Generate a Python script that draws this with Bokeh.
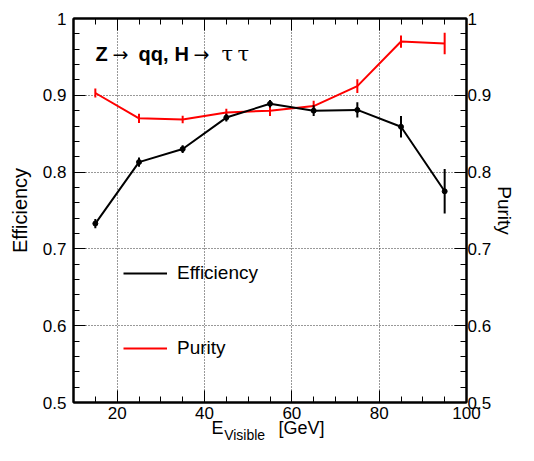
from bokeh.plotting import figure
from bokeh.models import (Range1d, LinearAxis, FixedTicker, Label, Legend, LegendItem)
from bokeh.embed import file_html
from bokeh.resources import INLINE
import numpy as np

# ---- data ----
e_visible = [15, 25, 35, 45, 55, 65, 75, 85, 95]
efficiency = [0.733, 0.813, 0.830, 0.871, 0.889, 0.880, 0.881, 0.859, 0.775]
efficiency_err = [0.006, 0.006, 0.005, 0.005, 0.005, 0.007, 0.010, 0.014, 0.029]
purity = [0.903, 0.870, 0.8685, 0.8775, 0.880, 0.886, 0.912, 0.970, 0.9675]
purity_err = [0.006, 0.006, 0.005, 0.005, 0.007, 0.007, 0.009, 0.008, 0.014]

x_ticks = [20, 40, 60, 80, 100]
x_tick_labels = ["20", "40", "60", "80", "100"]
y_ticks = [0.5, 0.6, 0.7, 0.8, 0.9, 1.0]
y_tick_labels = ["0.5", "0.6", "0.7", "0.8", "0.9", "1"]

# x-axis title pieces: text and the x value under which each is centred
x_title_main = ["E", "[GeV]"]
x_title_main_at = [43.0, 62.2]
x_title_sub = ["Visible"]
x_title_sub_at = [49.2]

SANS = "Liberation Sans"

p = figure(width=518, height=445, output_backend="svg", toolbar_location=None,
           x_range=Range1d(10, 100), y_range=Range1d(0.5, 1.0),
           min_border_left=73, min_border_right=45, min_border_top=18,
           min_border_bottom=42, background_fill_color="white",
           border_fill_color="white")
p.extra_y_ranges = {"pur": Range1d(0.5, 1.0)}

x_minor = list(np.arange(10, 100.1, 5))
y_minor = list(np.round(np.arange(0.5, 1.001, 0.02), 3))

def style_axis(ax, ticks, minor, labels=None):
    ax.ticker = FixedTicker(ticks=ticks, minor_ticks=minor)
    ax.axis_line_width = 2
    ax.axis_line_color = "black"
    ax.major_tick_in = 12
    ax.major_tick_out = 0
    ax.minor_tick_in = 6
    ax.minor_tick_out = 0
    ax.major_tick_line_color = "black"
    ax.minor_tick_line_color = "black"
    ax.major_tick_line_width = 1
    ax.minor_tick_line_width = 1
    ax.major_label_text_font = SANS
    ax.major_label_text_font_size = "17px"
    ax.major_label_text_color = "black"
    if labels is None:
        ax.major_label_text_font_size = "1px"
        ax.major_label_text_color = None
    else:
        ax.major_label_overrides = {t: l for t, l in zip(ticks, labels)}

def text_axis(ticks, labels, size, standoff):
    ax = LinearAxis(ticker=FixedTicker(ticks=ticks, minor_ticks=[]))
    ax.axis_line_color = None
    ax.major_tick_line_color = None
    ax.minor_tick_line_color = None
    ax.major_tick_in = 0
    ax.major_tick_out = 0
    ax.minor_tick_in = 0
    ax.minor_tick_out = 0
    ax.major_label_standoff = standoff
    ax.major_label_text_font = SANS
    ax.major_label_text_font_size = size
    ax.major_label_text_color = "black"
    ax.major_label_overrides = {t: l for t, l in zip(ticks, labels)}
    return ax

# bottom
xa = p.xaxis[0]
style_axis(xa, x_ticks, x_minor, x_tick_labels)
xa.major_label_standoff = 4
# x-axis title built from two text rows (main text and subscript)
p.add_layout(text_axis(x_title_main_at, x_title_main, "18px", -4), "below")
p.add_layout(text_axis(x_title_sub_at, x_title_sub, "14px", -14), "below")

# left
ya = p.yaxis[0]
style_axis(ya, y_ticks, y_minor, y_tick_labels)
ya.major_label_standoff = 7
ya.axis_label = "Efficiency"
ya.axis_label_text_font = SANS
ya.axis_label_text_font_style = "normal"
ya.axis_label_text_font_size = "20px"
ya.axis_label_standoff = 9
ya.axis_label_text_color = "black"

# top (mirrored ticks)
top = LinearAxis()
style_axis(top, x_ticks, x_minor, None)
top.major_label_standoff = 0
p.add_layout(top, "above")
# right (purity)
right = LinearAxis(y_range_name="pur")
style_axis(right, y_ticks, y_minor, y_tick_labels)
right.major_label_standoff = 1
right.axis_label = "Purity"
right.axis_label_text_font = SANS
right.axis_label_text_font_style = "normal"
right.axis_label_text_font_size = "19px"
right.axis_label_standoff = 0
right.axis_label_text_color = "black"
p.add_layout(right, "right")

p.outline_line_color = "black"
p.outline_line_width = 2
p.outline_line_alpha = 1

# grids
p.xgrid.ticker = FixedTicker(ticks=x_ticks)
p.ygrid.ticker = FixedTicker(ticks=y_ticks)
for g in (p.xgrid[0], p.ygrid[0]):
    g.grid_line_color = "#333333"
    g.grid_line_dash = "1 2"
    g.grid_line_width = 1

eff_lo = [v - e for v, e in zip(efficiency, efficiency_err)]
eff_hi = [v + e for v, e in zip(efficiency, efficiency_err)]
pur_lo = [v - e for v, e in zip(purity, purity_err)]
pur_hi = [v + e for v, e in zip(purity, purity_err)]

r_pur = p.line(e_visible, purity, line_color="#ff0000", line_width=2)
p.segment(x0=e_visible, y0=pur_lo, x1=e_visible, y1=pur_hi, line_color="#ff0000", line_width=2)

r_eff = p.line(e_visible, efficiency, line_color="black", line_width=2)
p.segment(x0=e_visible, y0=eff_lo, x1=e_visible, y1=eff_hi, line_color="black", line_width=2)
p.scatter(e_visible, efficiency, size=5, color="black")

legend = Legend(items=[LegendItem(label="Efficiency", renderers=[r_eff]),
                       LegendItem(label="Purity", renderers=[r_pur])],
                location=(50, 43), padding=0, margin=0, spacing=53,
                glyph_width=44, glyph_height=20, label_height=20,
                label_standoff=10, label_text_font=SANS,
                label_text_font_size="19px", label_text_color="black",
                background_fill_alpha=0, border_line_alpha=0)
p.add_layout(legend, "center")

# title pieces (screen units, relative to the plot frame)
title_parts = [("Z", SANS, "bold", 22, "20px"),
               ("\u2192", "DejaVu Sans", "normal", 39, "19px"),
               ("qq,", SANS, "bold", 65, "20px"),
               ("H", SANS, "bold", 101, "20px"),
               ("\u2192", "DejaVu Sans", "normal", 120, "19px"),
               ("\u03c4", "DejaVu Serif", "normal", 148, "21px"),
               ("\u03c4", "DejaVu Serif", "normal", 164, "21px")]
for txt, font, style, xo, fs in title_parts:
    p.add_layout(Label(x=xo, y=349, x_units="screen", y_units="screen", text=txt,
                       text_font=font, text_font_style=style, text_font_size=fs,
                       text_color="black", text_baseline="alphabetic"))

open("out.html", "w").write(file_html(p, INLINE))
